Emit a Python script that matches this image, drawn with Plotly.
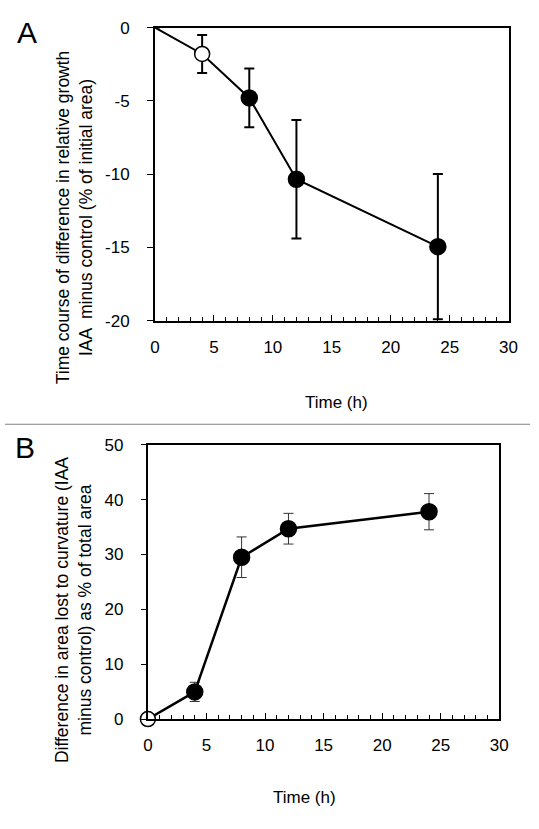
import plotly.graph_objects as go

# ---- data ----
time_a = [0, 4, 8, 12, 24]
growth_diff = [0, -1.8, -4.8, -10.35, -14.95]
growth_err = [0, 1.3, 2.0, 4.05, 4.95]

time_b = [0, 4, 8, 12, 24]
area_lost = [0, 4.95, 29.5, 34.7, 37.8]
area_err = [0, 1.75, 3.7, 2.8, 3.3]

x_ticks = [0, 5, 10, 15, 20, 25, 30]
ya_ticks = [0, -5, -10, -15, -20]
ya_labels = ["0", "-5", "-10", "-15", "-20"]
yb_ticks = [0, 10, 20, 30, 40, 50]

W, H = 539, 829
FONT = "Liberation Sans, Arial, sans-serif"
FS = 17

def px_x(p):
    return p / W

def px_y(p):
    return 1 - p / H

fig = go.Figure()

# Panel A
fig.add_trace(go.Scatter(
    x=time_a, y=growth_diff, mode="lines+markers",
    line=dict(color="black", width=2),
    marker=dict(size=[0, 15, 16, 16, 16], opacity=1,
                color=["white", "white", "black", "black", "black"],
                line=dict(color="black", width=1.5)),
    error_y=dict(type="data", array=growth_err, visible=True,
                 color="black", thickness=2, width=5),
    cliponaxis=False, showlegend=False, xaxis="x", yaxis="y"))

# Panel B
fig.add_trace(go.Scatter(
    x=time_b, y=area_lost, mode="lines+markers",
    line=dict(color="black", width=2.5),
    marker=dict(size=[15, 16, 16, 16, 16], opacity=1,
                color=["white", "black", "black", "black", "black"],
                line=dict(color="black", width=1.5)),
    error_y=dict(type="data", array=area_err, visible=True,
                 color="#333333", thickness=1, width=5),
    cliponaxis=False, showlegend=False, xaxis="x2", yaxis="y2"))

xcommon = dict(range=[0, 30], tickvals=x_ticks, ticks="inside", ticklen=6,
               tickwidth=1, tickcolor="black", showline=True, linecolor="black",
               linewidth=2, mirror=True, showgrid=False, zeroline=False,
               ticklabelstandoff=10,
               tickfont=dict(family=FONT, size=FS, color="black"),
               minor=dict(dtick=1, ticks="inside", ticklen=4, tickwidth=1,
                          tickcolor="black", showgrid=False))

fig.update_layout(
    width=W, height=H,
    margin=dict(l=0, r=0, t=0, b=0),
    paper_bgcolor="white", plot_bgcolor="white",
    xaxis=dict(domain=[px_x(154), px_x(517)], anchor="y", **xcommon),
    yaxis=dict(domain=[px_y(319), px_y(19)], anchor="x", range=[-20, 0],
               tickvals=ya_ticks, ticktext=ya_labels, ticks="outside", ticklen=6,
               tickwidth=1, tickcolor="black", showline=True, linecolor="black",
               linewidth=2, mirror=True, showgrid=False, zeroline=False,
               ticklabelstandoff=14,
               tickfont=dict(family=FONT, size=FS, color="black")),
    xaxis2=dict(domain=[px_x(146.7), px_x(507.5)], anchor="y2", **xcommon),
    yaxis2=dict(domain=[px_y(726.7), px_y(446)], anchor="x2", range=[0, 50],
                tickvals=yb_ticks, ticks="outside", ticklen=5, tickwidth=1,
                tickcolor="black", showline=True, linecolor="black", linewidth=2,
                mirror=True, showgrid=False, zeroline=False,
                ticklabelstandoff=14,
                tickfont=dict(family=FONT, size=FS, color="black")),
)

def ann(text, x, y, size=FS, angle=0):
    fig.add_annotation(text=text, x=px_x(x), y=px_y(y), xref="paper", yref="paper",
                       showarrow=False, textangle=angle, xanchor="center",
                       yanchor="middle",
                       font=dict(family=FONT, size=size, color="black"))

ann("A", 23, 24, size=30)
ann("B", 21, 449, size=30)
ann("Time course of difference in relative growth<br>IAA  minus control (% of initial area)",
    71, 213, size=17.5, angle=-90)
ann("Difference in area lost to curvature (IAA<br>minus control) as % of total area",
    71, 615, size=17.5, angle=-90)
ann("Time (h)", 340, 403)
ann("Time (h)", 307, 807)

fig.add_shape(type="line", xref="paper", yref="paper", x0=0, x1=1,
              y0=px_y(425), y1=px_y(425), line=dict(color="#808080", width=1))

fig.write_html("out.html",
               config={"displayModeBar": False},
               post_script="document.body.style.margin='0';document.body.style.overflow='hidden';")
